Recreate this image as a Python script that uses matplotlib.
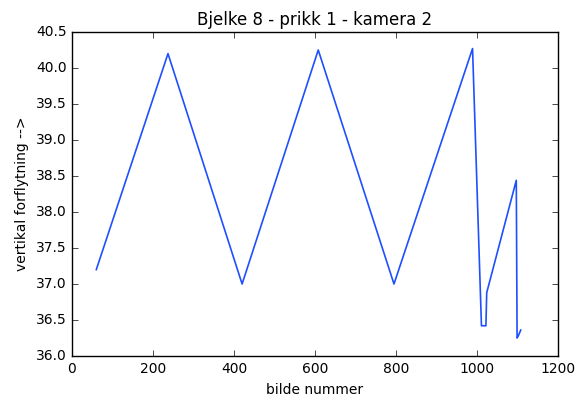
import matplotlib
matplotlib.use('Agg')
from matplotlib import pyplot as plt

plt.style.use('classic')

# bilde nummer / vertikal forflytning
frames = [60, 237, 420, 608, 795, 989, 1011, 1022, 1024, 1097, 1099, 1102, 1108]
disp = [37.2, 40.2, 37.0, 40.25, 37.0, 40.27, 36.42, 36.42, 36.88, 38.44, 36.25, 36.28, 36.36]

fig = plt.figure(figsize=(5.83, 4.01), dpi=100, facecolor='white')
ax = fig.add_axes([72/583, 45/401, 486/583, 324/401])
ax.plot(frames, disp, color='#1f4fff', lw=1.2)
ax.set_xlim(0, 1200)
ax.set_ylim(36.0, 40.5)
ax.set_yticks([36.0, 36.5, 37.0, 37.5, 38.0, 38.5, 39.0, 39.5, 40.0, 40.5])
ax.tick_params(labelsize=10)
ax.set_xlabel('bilde nummer', fontsize=10)
ax.set_ylabel('vertikal forflytning -->', fontsize=10)
ax.set_title('Bjelke 8 - prikk 1 - kamera 2', fontsize=12)

plt.savefig('out.png', dpi=100, facecolor='white')
